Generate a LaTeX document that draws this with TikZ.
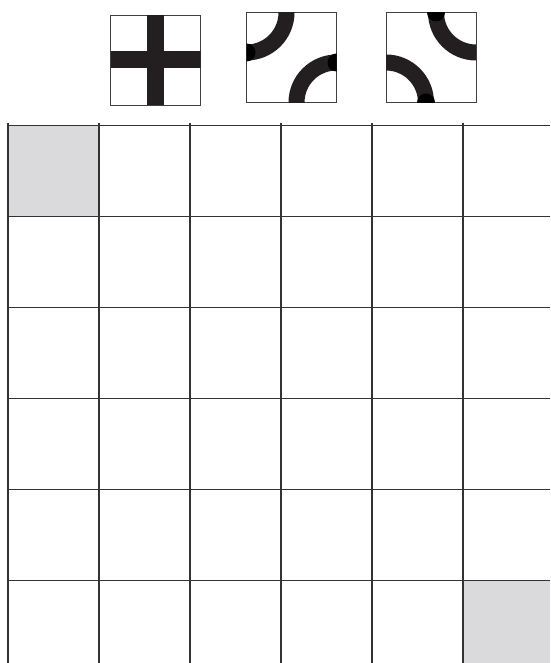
\documentclass[tikz,border=0pt]{standalone}
\usepackage{xcolor}
\usepackage{tikz}
\definecolor{tileink}{RGB}{35,31,32}
\definecolor{cellgray}{RGB}{218,218,220}

\begin{document}
\begin{tikzpicture}[x=1pt,y=1pt,
  gridline/.style={line width=1.1pt, draw=black!80},
  tile/.style={draw=black!75, line width=0.9pt, minimum size=90pt, inner sep=0pt, outer sep=0pt},
  track/.style={draw=tileink, line width=16pt},
  plug/.style={fill=black}]
\useasboundingbox (0,0) rectangle (550,663);
% shaded cells
\fill[cellgray] (8,446.5) rectangle (99,537.5);
\fill[cellgray] (463,0) rectangle (550,82.5);
% board
\foreach \i in {0,...,5}{
  \draw[gridline] (8+91*\i,0) -- (8+91*\i,539.5);
  \draw[gridline] (7,537.5-91*\i) -- (550,537.5-91*\i);
}
% tiles
\node[tile](cross) at (155.5,603){};
\node[tile](curveA) at (291.5,605.5){};
\node[tile](curveB) at (431,605.5){};
\begin{scope}
\clip (cross.south west) rectangle (cross.north east);
\draw[track, line width=17pt] (cross.north) -- (cross.south);
\draw[track, line width=17pt] (cross.west) -- (cross.east);
\end{scope}
\begin{scope}
\clip (curveA.south west) rectangle (curveA.north east);
\draw[track] (curveA.north west) circle (40);
\draw[track] (curveA.south east) circle (40);
\fill[plug] ([yshift=-40pt]curveA.north west) circle (9);
\fill[plug] ([yshift=40pt]curveA.south east) circle (9);
\end{scope}
\begin{scope}
\clip (curveB.south west) rectangle (curveB.north east);
\draw[track] (curveB.north east) circle (40);
\draw[track] (curveB.south west) circle (40);
\fill[plug] ([xshift=-40pt]curveB.north east) circle (9);
\fill[plug] ([xshift=40pt]curveB.south west) circle (9);
\end{scope}
\end{tikzpicture}
\end{document}
